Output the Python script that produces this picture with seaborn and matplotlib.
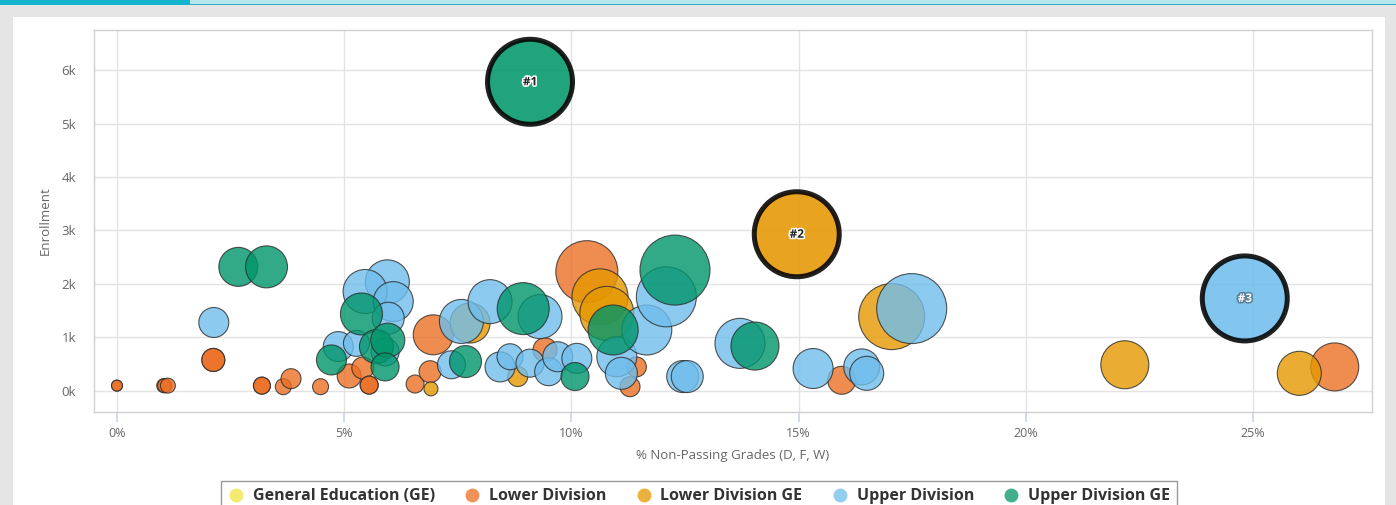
import numpy as np
import pandas as pd
import matplotlib
matplotlib.use("Agg")
import matplotlib.pyplot as plt
import seaborn as sns
from matplotlib.patches import Rectangle
from matplotlib.lines import Line2D
import matplotlib.patheffects as pe
from matplotlib.ticker import FuncFormatter

# ---------------- data ----------------
categories = ["General Education (GE)", "Lower Division", "Lower Division GE",
              "Upper Division", "Upper Division GE"]

ge_x, ge_y, ge_z = [], [], []

lower_x = [0.0, 0.0, 1.03, 1.05, 1.12, 2.12, 2.12, 3.19, 3.19, 3.66, 3.83, 4.48,
           5.11, 5.41, 5.55, 5.55, 6.56, 6.89, 6.96, 9.42, 10.34, 11.29, 11.43,
           15.95, 26.8]
lower_y = [100, 100, 100, 100, 100, 580, 580, 100, 100, 80, 230, 80,
           280, 430, 110, 110, 130, 360, 1050, 770, 2230, 80, 450,
           200, 450]
lower_z = [30, 30, 50, 50, 56, 132, 132, 72, 72, 64, 100, 64,
           144, 121, 81, 81, 81, 121, 400, 144, 961, 100, 100,
           196, 576]

lowerge_x = [6.91, 7.77, 8.82, 10.63, 10.78, 17.05, 22.18, 26.02]
lowerge_y = [40, 1270, 270, 1760, 1450, 1390, 490, 330]
lowerge_z = [49, 400, 100, 784, 729, 1089, 576, 484]

upper_x = [2.13, 5.95, 5.46, 6.08, 5.97, 4.87, 5.27, 5.9, 7.58, 8.21, 9.31,
           7.36, 8.43, 8.65, 9.09, 9.5, 9.7, 10.12, 11.0, 11.1, 11.66, 12.09,
           12.45, 12.55, 13.71, 15.32, 16.39, 16.5, 17.49]
upper_y = [1280, 2040, 1860, 1670, 1360, 830, 890, 730, 1300, 1670, 1390,
           490, 450, 640, 520, 360, 640, 610, 640, 330, 1140, 1760,
           270, 270, 890, 420, 450, 330, 1540]
upper_z = [225, 484, 484, 400, 256, 225, 169, 196, 484, 484, 484,
           196, 225, 169, 196, 196, 225, 225, 400, 256, 625, 900,
           256, 256, 625, 400, 324, 289, 1225]

upperge_x = [2.67, 3.29, 5.38, 4.72, 5.71, 5.96, 5.9, 7.67, 8.94, 10.08, 10.92,
             12.28, 14.04]
upperge_y = [2320, 2320, 1440, 580, 830, 950, 450, 550, 1540, 270, 1140,
             2260, 840]
upperge_z = [380, 441, 441, 225, 289, 289, 196, 256, 676, 196, 625,
             1225, 576]

rank_labels = ["#1", "#2", "#3"]
rank_cat = ["Upper Division GE", "Lower Division GE", "Upper Division"]
rank_x = [9.09, 14.96, 24.82]
rank_y = [5780, 2930, 1730]
rank_z = [1806, 1806, 1806]

x_ticks = [0, 5, 10, 15, 20, 25]
y_ticks = [0, 1000, 2000, 3000, 4000, 5000, 6000]

palette = {
    "General Education (GE)": "#F0E442",
    "Lower Division": "#EC6F24",
    "Lower Division GE": "#E59700",
    "Upper Division": "#6FBDEC",
    "Upper Division GE": "#009569",
}

# ---------------- build frame ----------------
parts = []
for cat, xs, ys, zs in [(categories[0], ge_x, ge_y, ge_z),
                        (categories[1], lower_x, lower_y, lower_z),
                        (categories[2], lowerge_x, lowerge_y, lowerge_z),
                        (categories[3], upper_x, upper_y, upper_z),
                        (categories[4], upperge_x, upperge_y, upperge_z)]:
    parts.append(pd.DataFrame({"pct": xs, "enroll": ys, "z": zs,
                               "cat": [cat] * len(xs)}))
df = pd.concat(parts, ignore_index=True)
rank_df = pd.DataFrame({"pct": rank_x, "enroll": rank_y, "z": rank_z,
                        "cat": rank_cat, "label": rank_labels})

# ---------------- figure ----------------
W, H = 1396, 505
sns.set_theme(style="white")
plt.rcParams["font.family"] = ["Open Sans", "DejaVu Sans"]

fig = plt.figure(figsize=(W / 100, H / 100), dpi=100, facecolor="#e5e5e5")

# page decoration (behind everything)
fig.patches.append(Rectangle((13 / W, 0), (1385 - 13) / W, (H - 17) / H,
                             transform=fig.transFigure, facecolor="white",
                             edgecolor="none", zorder=-10))
fig.patches.append(Rectangle((0, 1 - 4 / H), 1, 4 / H, transform=fig.transFigure,
                             facecolor="#b3e5ec", edgecolor="none", zorder=-9))
fig.patches.append(Rectangle((0, 1 - 5 / H), 1, 1.3 / H, transform=fig.transFigure,
                             facecolor="#3aa9c1", edgecolor="none", zorder=-8))
fig.patches.append(Rectangle((0, 1 - 5 / H), 190 / W, 5 / H, transform=fig.transFigure,
                             facecolor="#14b4cf", edgecolor="none", zorder=-7))

ax = fig.add_axes([94 / W, 1 - 412 / H, (1372 - 94) / W, (412 - 30) / H])
ax.set_zorder(5)
ax.set_facecolor("white")

ZN = 2000.0
SMAX = (1.44 ** 2) * ZN

sns.scatterplot(data=df, x="pct", y="enroll", hue="cat", size="z",
                hue_order=categories, palette=palette,
                sizes=(0, SMAX), size_norm=(0, ZN),
                alpha=0.8, edgecolor="#2b2b2b", linewidth=0.8,
                legend=False, ax=ax, zorder=3)

sns.scatterplot(data=rank_df, x="pct", y="enroll", hue="cat", size="z",
                hue_order=categories, palette=palette,
                sizes=(0, SMAX), size_norm=(0, ZN),
                alpha=0.87, edgecolor="black", linewidth=3.6,
                legend=False, ax=ax, zorder=4)

for _, r in rank_df.iterrows():
    if r["label"] == "#3":
        col, halo = "white", "#5a7f98"
    else:
        col, halo = "#222222", "white"
    ax.text(r["pct"], r["enroll"], r["label"], ha="center", va="center",
            fontsize=8.5, fontweight="bold", color=col, zorder=5,
            path_effects=[pe.withStroke(linewidth=2.2, foreground=halo)])

ax.set_xlim(-0.506, 27.62)
ax.set_ylim(-393, 6748)
ax.set_xticks(x_ticks)
ax.set_yticks(y_ticks)
ax.xaxis.set_major_formatter(FuncFormatter(lambda v, p: f"{v:.0f}%"))
ax.yaxis.set_major_formatter(FuncFormatter(lambda v, p: f"{v / 1000:.0f}k"))
ax.grid(True, color="#e3e3e3", linewidth=1)
ax.set_axisbelow(True)
for s in ax.spines.values():
    s.set_color("#d0d0d0")
    s.set_linewidth(1)
ax.tick_params(axis="x", length=7, color="#ccd6eb", direction="out",
               labelcolor="#666666", labelsize=9, pad=4, bottom=True)
ax.tick_params(axis="y", length=0, labelcolor="#666666", labelsize=9.5, pad=13)
ax.set_xlabel("% Non-Passing Grades (D, F, W)", color="#666666", fontsize=9.5,
              labelpad=6)
ax.set_ylabel("Enrollment", color="#666666", fontsize=9.5, labelpad=7)

handles = [Line2D([0], [0], marker="o", linestyle="", markersize=10,
                  markerfacecolor=palette[c], markeredgewidth=0, alpha=0.75)
           for c in categories]
leg = fig.legend(handles, categories, loc="upper center",
                 bbox_to_anchor=(0.5007, 1 - 481 / H), borderaxespad=0,
                 ncol=5, frameon=True,
                 fancybox=False, edgecolor="#999999", framealpha=1,
                 prop={"weight": "bold", "size": 11.5}, handlelength=1.0,
                 handletextpad=0.56, columnspacing=1.83, borderpad=0.45)
leg.set_zorder(6)
leg.get_frame().set_linewidth(1)
for t in leg.get_texts():
    t.set_color("#333333")

fig.savefig("out.png", dpi=100, facecolor=fig.get_facecolor())
